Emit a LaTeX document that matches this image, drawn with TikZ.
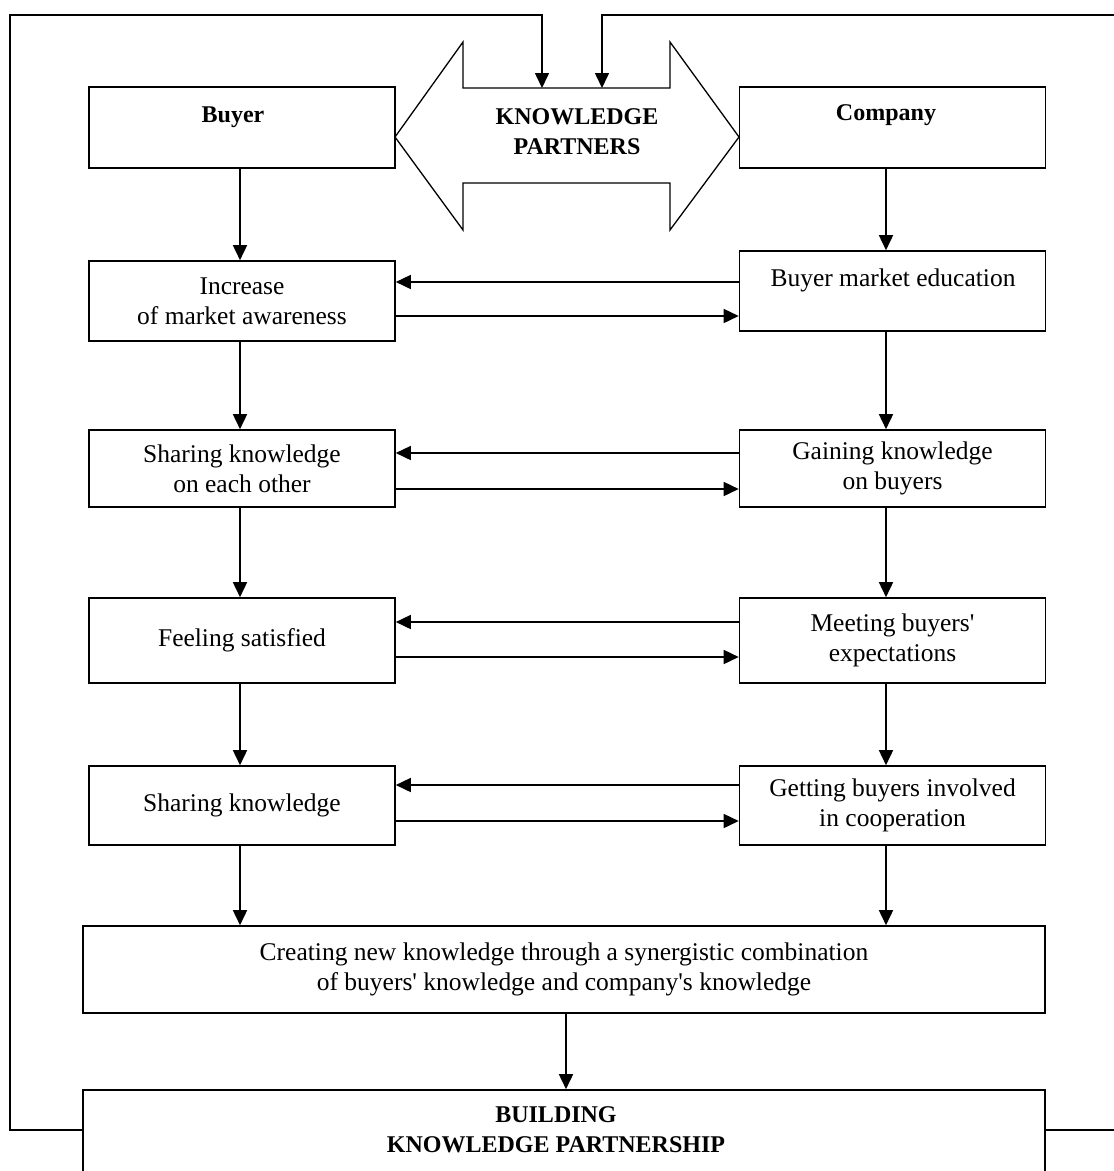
\documentclass[tikz,border=0pt]{standalone}
\usepackage{fontspec}
\setmainfont{Liberation Serif}
\usetikzlibrary{arrows.meta,calc}
\begin{document}
\begin{tikzpicture}[x=1pt,y=-1pt,
  line width=1.6pt,
  box/.style={draw,rectangle,inner sep=0pt,align=center,font=\fontsize{25.5}{30}\selectfont},
  lbox/.style={box,minimum width=306pt},
  txt/.style={inner sep=0pt,align=center,font=\fontsize{25.5}{30}\selectfont},
  btxt/.style={inner sep=0pt,align=center,font=\fontsize{24}{30}\selectfont\bfseries},
  arr/.style={-{Triangle[length=15pt,width=14pt]}}
]
\useasboundingbox (0,0) rectangle (1114,1171);

% boxes left column
\node[lbox,minimum height=81pt] (buyer) at (242,127.5) {};
\node[btxt] (buyerT) at (233,117) {Buyer};
\node[lbox,minimum height=80pt] (l1) at (242,301) {Increase\\of market awareness};
\node[lbox,minimum height=77pt] (l2) at (242,468.5) {Sharing knowledge\\on each other};
\node[lbox,minimum height=85pt] (l3) at (242,640.5) {Feeling satisfied};
\node[lbox,minimum height=79pt] (l4) at (242,805.5) {Sharing knowledge};

% boxes right column
\node[lbox,minimum height=81pt] (company) at (892.5,127.5) {};
\node[btxt] (companyT) at (886,115) {Company};
\node[lbox,minimum height=80pt] (r1) at (892.5,291) {};
\node[txt] (r1T) at (893,280) {Buyer market education};
\node[lbox,minimum height=77pt] (r2) at (892.5,468.5) {Gaining knowledge\\on buyers};
\node[lbox,minimum height=85pt] (r3) at (892.5,640.5) {Meeting buyers\textquotesingle\\expectations};
\node[lbox,minimum height=79pt] (r4) at (892.5,805.5) {Getting buyers involved\\in cooperation};

% bottom boxes
\node[box,minimum width=962pt,minimum height=87pt] (create) at (564,969.5) {Creating new knowledge through a synergistic combination\\of buyers\textquotesingle{} knowledge and company\textquotesingle s knowledge};
\node[box,minimum width=962pt,minimum height=140pt] (build) at (564,1160) {};
\node[btxt] (buildT) at (556,1130) {BUILDING\\KNOWLEDGE PARTNERSHIP};

% double arrow
\draw[line width=1.3pt,fill=white] (395,137) -- (463,42) -- (463,88) -- (670,88) -- (670,42)
  -- (739,137) -- (670,230) -- (670,183) -- (463,183) -- (463,230) -- cycle;
\node[btxt] (kp) at (577,132) {KNOWLEDGE\\PARTNERS};
\coordinate (kpL) at (542,88);
\coordinate (kpR) at (602,88);

% vertical arrows
\draw[arr] (buyer.south -| 240,0) -- (l1.north -| 240,0);
\draw[arr] (l1.south -| 240,0) -- (l2.north -| 240,0);
\draw[arr] (l2.south -| 240,0) -- (l3.north -| 240,0);
\draw[arr] (l3.south -| 240,0) -- (l4.north -| 240,0);
\draw[arr] (l4.south -| 240,0) -- (create.north -| 240,0);
\draw[arr] (company.south -| 886,0) -- (r1.north -| 886,0);
\draw[arr] (r1.south -| 886,0) -- (r2.north -| 886,0);
\draw[arr] (r2.south -| 886,0) -- (r3.north -| 886,0);
\draw[arr] (r3.south -| 886,0) -- (r4.north -| 886,0);
\draw[arr] (r4.south -| 886,0) -- (create.north -| 886,0);
\draw[arr] (create.south -| 566,0) -- (build.north -| 566,0);

% horizontal arrows
\draw[arr] (r1.west |- 0,282) -- (l1.east |- 0,282);
\draw[arr] (l1.east |- 0,316) -- (r1.west |- 0,316);
\draw[arr] (r2.west |- 0,453) -- (l2.east |- 0,453);
\draw[arr] (l2.east |- 0,489) -- (r2.west |- 0,489);
\draw[arr] (r3.west |- 0,622) -- (l3.east |- 0,622);
\draw[arr] (l3.east |- 0,657) -- (r3.west |- 0,657);
\draw[arr] (r4.west |- 0,785) -- (l4.east |- 0,785);
\draw[arr] (l4.east |- 0,821) -- (r4.west |- 0,821);

% feedback loops
\draw[arr] (build.west |- 0,1130) -| (10,15) -| (kpL);
\draw[arr] (build.east |- 0,1130) -- (1125,1130) -- (1125,15) -| (kpR);
\end{tikzpicture}
\end{document}
